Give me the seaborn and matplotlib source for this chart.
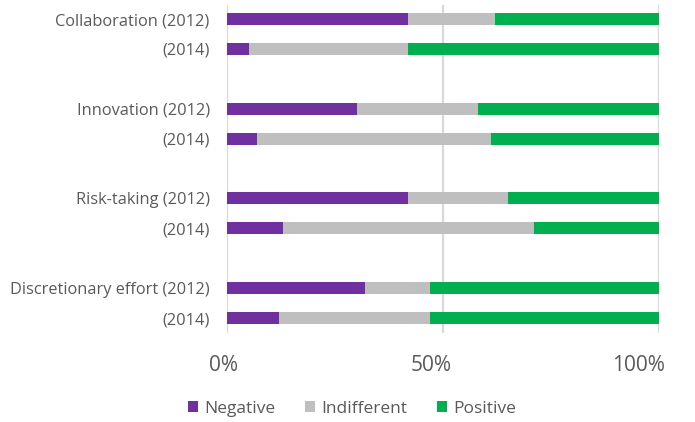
"""Stacked 100% bars: attitude survey 2012 vs 2014."""

import matplotlib.pyplot as plt
import pandas as pd
import seaborn as sns
from matplotlib.patches import Patch
from matplotlib.transforms import ScaledTranslation

sns.set_theme(style="white")
plt.rcParams["font.family"] = ["Open Sans", "DejaVu Sans"]

labels = [
    "Collaboration (2012)", "(2014)",
    "Innovation (2012)", "(2014)",
    "Risk-taking (2012)", "(2014)",
    "Discretionary effort (2012)", "(2014)",
]
negative = [42, 5, 30, 7, 42, 13, 32, 12]
indifferent = [20, 37, 28, 54, 23, 58, 15, 35]
positive = [38, 58, 42, 39, 35, 29, 53, 53]

colors = {"Negative": "#7030A0", "Indifferent": "#BFBFBF", "Positive": "#00B050"}
text_color = "#595959"
grid_color = "#D9D9D9"

# two rows per measure, one empty slot between groups
rows = [i + i // 2 for i in range(len(labels))]

df = pd.DataFrame({
    "row": rows,
    "label": labels,
    "Negative": negative,
    "Indifferent": indifferent,
    "Positive": positive,
})
df["upto_neg"] = df["Negative"]
df["upto_ind"] = df["Negative"] + df["Indifferent"]
df["upto_pos"] = df["upto_ind"] + df["Positive"]

fig = plt.figure(figsize=(6.95, 4.22), dpi=100)
ax = fig.add_axes([227 / 695, 1 - 333 / 422, 432 / 695, 328 / 422])

for col, name in [("upto_pos", "Positive"), ("upto_ind", "Indifferent"), ("upto_neg", "Negative")]:
    sns.barplot(
        data=df, x=col, y="row", orient="h", native_scale=True,
        color=colors[name], width=0.4, saturation=1, linewidth=0, ax=ax,
    )

ax.set_xlim(0, 100)
ax.set_ylim(10.5, -0.47)
ax.set_yticks(rows)
ax.set_yticklabels(labels)
ax.set_xticks([0, 50, 100])
ax.set_xticklabels(["0%", "50%", "100%"])
ax.set_xlabel("")
ax.set_ylabel("")

for s in ax.spines.values():
    s.set_visible(False)
ax.set_axisbelow(True)
ax.xaxis.grid(True, color=grid_color, linewidth=1.6)
ax.yaxis.grid(False)

ax.tick_params(axis="y", length=0, pad=12.5, labelsize=11.8, labelcolor=text_color)
ax.tick_params(axis="x", length=0, pad=16, labelsize=15, labelcolor=text_color)

# excel-style shifted x tick labels
for lab, dx in zip(ax.get_xticklabels(), [-3, -12, -21]):
    lab.set_transform(lab.get_transform() + ScaledTranslation(dx / 100, 0, fig.dpi_scale_trans))

handles = [Patch(facecolor=colors[n], edgecolor="none", label=n) for n in ["Negative", "Indifferent", "Positive"]]
leg = fig.legend(
    handles=handles, loc="center", bbox_to_anchor=(352 / 695, 1 - 409 / 422),
    ncol=3, frameon=False, fontsize=12.5, handlelength=0.6, handleheight=0.6,
    handletextpad=0.35, columnspacing=1.7,
)
for t in leg.get_texts():
    t.set_color(text_color)

fig.savefig("out.png", dpi=100)
